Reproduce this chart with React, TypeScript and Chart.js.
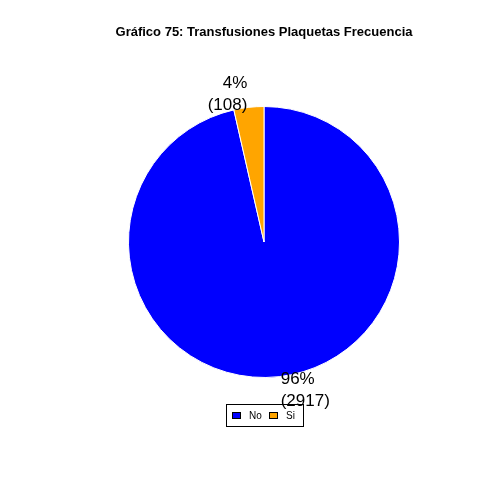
import { useEffect, useRef } from "react";
import { Chart, registerables } from "chart.js";
import type { Plugin } from "chart.js";

Chart.register(...registerables);

const categories = ["No", "Si"];
const counts = [2917, 108];
const percents = ["96%", "4%"];
const colors = ["#0000FF", "#FFA500"];

const decor: Plugin<"pie"> = {
  id: "decor",
  afterDraw(chart) {
    const { ctx } = chart;
    ctx.save();
    ctx.fillStyle = "#000";
    ctx.font = "bold 13px 'Liberation Sans', Arial, sans-serif";
    ctx.textAlign = "center";
    ctx.textBaseline = "middle";
    ctx.fillText("Gráfico 75: Transfusiones Plaquetas Frecuencia", 264, 32);

    const meta = chart.getDatasetMeta(0);
    ctx.font = "17px 'Liberation Sans', Arial, sans-serif";
    meta.data.forEach((el: any, i) => {
      const mid = (el.startAngle + el.endAngle) / 2;
      const r = el.outerRadius * 1.1;
      const x = el.x + r * Math.cos(mid);
      const y = el.y + r * Math.sin(mid);
      ctx.textAlign = Math.cos(mid) < 0 ? "right" : "left";
      ctx.fillText(percents[i], x, y - 11);
      ctx.fillText(`(${counts[i]})`, x, y + 11);
    });

    // legend
    ctx.strokeStyle = "#000";
    ctx.lineWidth = 1;
    ctx.strokeRect(226.5, 404.5, 77, 22);
    ctx.font = "10px 'Liberation Sans', Arial, sans-serif";
    ctx.textAlign = "left";
    const xs = [232, 269];
    categories.forEach((c, i) => {
      ctx.fillStyle = colors[i];
      ctx.fillRect(xs[i], 412, 8, 6);
      ctx.strokeRect(xs[i] + 0.5, 412.5, 8, 6);
      ctx.fillStyle = "#000";
      ctx.fillText(c, xs[i] + 17, 416);
    });
    ctx.restore();
  },
};

export default function App() {
  const canvasRef = useRef<HTMLCanvasElement | null>(null);

  useEffect(() => {
    const chart = new Chart(canvasRef.current!, {
      type: "pie",
      data: {
        labels: categories,
        datasets: [
          {
            data: counts,
            backgroundColor: colors,
            borderColor: "#ffffff",
            borderWidth: 1,
          },
        ],
      },
      options: {
        responsive: false,
        animation: false,
        layout: { padding: { left: 128, right: 100, top: 106, bottom: 122 } },
        plugins: { legend: { display: false }, tooltip: { enabled: false } },
      },
      plugins: [decor],
    });
    return () => chart.destroy();
  }, []);

  return (
    <div style={{ position: "fixed", left: 0, top: 0, width: 500, height: 500, background: "#fff" }}>
      <canvas ref={canvasRef} width={500} height={500} />
    </div>
  );
}
